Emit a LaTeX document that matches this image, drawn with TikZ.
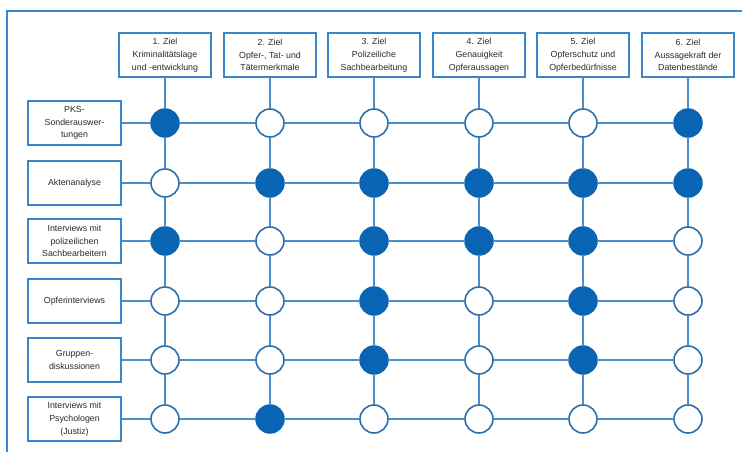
\documentclass[tikz,border=0pt]{standalone}
\usepackage{fontspec}
\setmainfont{Liberation Sans}
\definecolor{dotblue}{HTML}{0A64B4}
\definecolor{lineblue}{HTML}{4A8FCC}
\definecolor{boxblue}{HTML}{3A86C8}
\definecolor{ringblue}{HTML}{2F70AA}
\definecolor{txt}{HTML}{2A2A2A}
\begin{document}
\begin{tikzpicture}[x=1pt,y=-1pt,
  hbox/.style={draw=boxblue,line width=2pt,fill=white,minimum width=92pt,minimum height=44pt,inner sep=1pt,align=center,text=txt,font=\fontsize{8.8}{12.8}\selectfont},
  lbox/.style={hbox,minimum width=93pt},
  dotfull/.style={circle,fill=dotblue,draw=dotblue,line width=1.5pt,minimum size=28pt,inner sep=0pt},
  dotempty/.style={circle,fill=white,draw=ringblue,line width=1.6pt,minimum size=28pt,inner sep=0pt},
  conn/.style={draw=lineblue,line width=2pt}]
\useasboundingbox (0,0) rectangle (742,452);
\fill[white] (0,0) rectangle (742,452);
\draw[boxblue,line width=2pt] (7,452) -- (7,11) -- (742,11);
% headers
\node[hbox] (h1) at (165,55) {1. Ziel\\Kriminalitätslage\\und -entwicklung};
\node[hbox] (h2) at (270,55) {2. Ziel\\Opfer-, Tat- und\\Tätermerkmale};
\node[hbox] (h3) at (374,55) {3. Ziel\\Polizeiliche\\Sachbearbeitung};
\node[hbox] (h4) at (479,55) {4. Ziel\\Genauigkeit\\Opferaussagen};
\node[hbox] (h5) at (583,55) {5. Ziel\\Opferschutz und\\Opferbedürfnisse};
\node[hbox] (h6) at (688,55) {6. Ziel\\Aussagekraft der\\Datenbestände};
% row labels
\node[lbox] (r1) at (74.5,123) {PKS-\\Sonderauswer-\\tungen};
\node[lbox] (r2) at (74.5,183) {Aktenanalyse};
\node[lbox] (r3) at (74.5,241) {Interviews mit\\polizeilichen\\Sachbearbeitern};
\node[lbox] (r4) at (74.5,301) {Opferinterviews};
\node[lbox] (r5) at (74.5,360) {Gruppen-\\diskussionen};
\node[lbox] (r6) at (74.5,419) {Interviews mit\\Psychologen\\(Justiz)};
% dots
\foreach \r/\y/\pat in {1/123/{1,0,0,0,0,1},2/183/{0,1,1,1,1,1},3/241/{1,0,1,1,1,0},4/301/{0,0,1,0,1,0},5/360/{0,0,1,0,1,0},6/419/{0,1,0,0,0,0}}{
  \foreach \f [count=\c] in \pat {
    \pgfmathsetmacro{\xx}{{165,270,374,479,583,688}[\c-1]}
    \ifnum\f=1
      \node[dotfull] (c\r\c) at (\xx,\y) {};
    \else
      \node[dotempty] (c\r\c) at (\xx,\y) {};
    \fi
  }
}
% connectors
\foreach \c in {1,...,6}{
  \draw[conn] (h\c) -- (c1\c);
  \foreach \r [evaluate=\r as \rn using int(\r+1)] in {1,...,5}{
    \draw[conn] (c\r\c) -- (c\rn\c);
  }
}
\foreach \r in {1,...,6}{
  \draw[conn] (r\r) -- (c\r1);
  \foreach \c [evaluate=\c as \cn using int(\c+1)] in {1,...,5}{
    \draw[conn] (c\r\c) -- (c\r\cn);
  }
}
\end{tikzpicture}
\end{document}
